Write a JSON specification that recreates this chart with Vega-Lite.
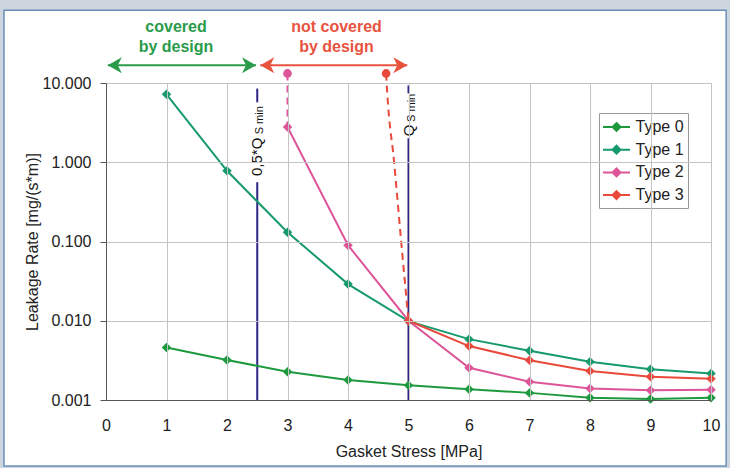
{
  "$schema": "https://vega.github.io/schema/vega-lite/v6.json",
  "width": 605,
  "height": 317,
  "autosize": {"type": "none"},
  "padding": {"left": 106, "top": 83, "right": 19, "bottom": 68},
  "background": "#cdd6df",
  "config": {
    "font": "Liberation Sans",
    "view": {"stroke": null},
    "axis": {
      "gridColor": "#c4c4c4",
      "gridWidth": 1,
      "domainColor": "#555555",
      "tickColor": "#555555",
      "labelColor": "#222222",
      "labelFontSize": 16,
      "titleFontSize": 16,
      "titleFontWeight": "normal",
      "titleColor": "#222222"
    }
  },
  "datasets": {
    "panel": [{"x": -1.686, "x2": 10.25, "y": 82.6, "y2": 0.000147}],
    "main": [
      {"series": "Type 0", "x": 1, "y": 0.0046},
      {"series": "Type 0", "x": 2, "y": 0.0032},
      {"series": "Type 0", "x": 3, "y": 0.00227},
      {"series": "Type 0", "x": 4, "y": 0.00179},
      {"series": "Type 0", "x": 5, "y": 0.00153},
      {"series": "Type 0", "x": 6, "y": 0.00137},
      {"series": "Type 0", "x": 7, "y": 0.00123},
      {"series": "Type 0", "x": 8, "y": 0.00107},
      {"series": "Type 0", "x": 9, "y": 0.00103},
      {"series": "Type 0", "x": 10, "y": 0.00107},
      {"series": "Type 1", "x": 1, "y": 7.2},
      {"series": "Type 1", "x": 2, "y": 0.78},
      {"series": "Type 1", "x": 3, "y": 0.131},
      {"series": "Type 1", "x": 4, "y": 0.029},
      {"series": "Type 1", "x": 5, "y": 0.0099},
      {"series": "Type 1", "x": 6, "y": 0.00586},
      {"series": "Type 1", "x": 7, "y": 0.00417},
      {"series": "Type 1", "x": 8, "y": 0.00303},
      {"series": "Type 1", "x": 9, "y": 0.00245},
      {"series": "Type 1", "x": 10, "y": 0.00216},
      {"series": "Type 2", "x": 3, "y": 2.79},
      {"series": "Type 2", "x": 4, "y": 0.0897},
      {"series": "Type 2", "x": 5, "y": 0.01},
      {"series": "Type 2", "x": 6, "y": 0.00255},
      {"series": "Type 2", "x": 7, "y": 0.0017},
      {"series": "Type 2", "x": 8, "y": 0.0014},
      {"series": "Type 2", "x": 9, "y": 0.00133},
      {"series": "Type 2", "x": 10, "y": 0.00135},
      {"series": "Type 3", "x": 5, "y": 0.01},
      {"series": "Type 3", "x": 6, "y": 0.00479},
      {"series": "Type 3", "x": 7, "y": 0.00318},
      {"series": "Type 3", "x": 8, "y": 0.00233},
      {"series": "Type 3", "x": 9, "y": 0.00196},
      {"series": "Type 3", "x": 10, "y": 0.00185}
    ],
    "dashed": [
      {"series": "Type 2", "x": 3, "y": 13.2},
      {"series": "Type 2", "x": 3, "y": 2.79},
      {"series": "Type 3", "x": 4.63, "y": 13.2},
      {"series": "Type 3", "x": 4.65, "y": 7.2},
      {"series": "Type 3", "x": 4.76, "y": 1.04},
      {"series": "Type 3", "x": 4.88, "y": 0.098},
      {"series": "Type 3", "x": 5, "y": 0.01}
    ],
    "tops": [
      {"series": "Type 2", "x": 3, "y": 13.2},
      {"series": "Type 3", "x": 4.63, "y": 13.2}
    ],
    "vrules": [
      {"x": 2.5, "y": 0.001, "y2": 0.56},
      {"x": 2.5, "y": 5.7, "y2": 8.5},
      {"x": 5, "y": 0.001, "y2": 2.01},
      {"x": 5, "y": 7.4, "y2": 9.3}
    ],
    "vlabels": [
      {"x": 2.5, "y": 1.17, "t": "0,5*Q"},
      {"x": 5, "y": 2.53, "t": "Q"}
    ],
    "vsubs": [
      {"x": 2.55, "y": 3.39, "t": "S min"},
      {"x": 5.05, "y": 4.86, "t": "S min"}
    ],
    "arrows": [
      {"g": "green", "x": 0.03, "x2": 2.48, "y": 16.7},
      {"g": "red", "x": 2.55, "x2": 4.98, "y": 16.7}
    ],
    "heads": [
      {"g": "green", "x": 0.03, "y": 16.7, "dir": "left"},
      {"g": "green", "x": 2.48, "y": 16.7, "dir": "right"},
      {"g": "red", "x": 2.55, "y": 16.7, "dir": "left"},
      {"g": "red", "x": 4.98, "y": 16.7, "dir": "right"}
    ],
    "notes": [
      {"g": "green", "x": 1.157, "y": 44, "t": "covered"},
      {"g": "green", "x": 1.157, "y": 24.6, "t": "by design"},
      {"g": "red", "x": 3.81, "y": 44, "t": "not covered"},
      {"g": "red", "x": 3.81, "y": 24.6, "t": "by design"}
    ]
  },
  "encoding": {
    "x": {
      "field": "x", "type": "quantitative",
      "scale": {"domain": [0, 10], "nice": false, "zero": false},
      "axis": {
        "zindex": 1,
        "title": "Gasket Stress [MPa]",
        "values": [0, 1, 2, 3, 4, 5, 6, 7, 8, 9, 10],
        "format": "d",
        "ticks": false,
        "labelPadding": 17,
        "titlePadding": 10,
        "labelFlush": false
      }
    },
    "y": {
      "field": "y", "type": "quantitative",
      "scale": {"type": "log", "domain": [0.001, 10], "nice": false},
      "axis": {
        "zindex": 1,
        "title": "Leakage Rate [mg/(s*m)]",
        "values": [0.001, 0.01, 0.1, 1, 10],
        "format": ".3f",
        "tickSize": 6,
        "labelPadding": 9,
        "titlePadding": 2,
        "labelFlush": false
      }
    }
  },
  "layer": [
    {
      "data": {"name": "panel"},
      "mark": {"type": "rect", "fill": "white", "stroke": "#6a90b6", "strokeWidth": 1.5, "clip": false},
      "encoding": {"x2": {"field": "x2"}, "y2": {"field": "y2"}}
    },
    {
      "data": {"name": "vrules"},
      "mark": {"type": "rule", "color": "#2e2585", "strokeWidth": 2, "clip": false},
      "encoding": {"y2": {"field": "y2"}}
    },
    {
      "data": {"name": "vlabels"},
      "mark": {"type": "text", "angle": -90, "align": "center", "baseline": "middle", "fontSize": 15, "color": "#111111"},
      "encoding": {"text": {"field": "t"}}
    },
    {
      "data": {"name": "vsubs"},
      "mark": {"type": "text", "angle": -90, "align": "center", "baseline": "middle", "fontSize": 11, "color": "#111111"},
      "encoding": {"text": {"field": "t"}}
    },
    {
      "data": {"name": "dashed"},
      "mark": {"type": "line", "strokeWidth": 2, "strokeDash": [7, 5], "interpolate": "monotone", "clip": false},
      "encoding": {
        "color": {"field": "series", "type": "nominal", "scale": {"domain": ["Type 0", "Type 1", "Type 2", "Type 3"], "range": ["#1e9a3e", "#169a6c", "#dd5599", "#e8493a"]}}
      }
    },
    {
      "data": {"name": "tops"},
      "mark": {"type": "point", "shape": "circle", "filled": true, "size": 75, "opacity": 1, "clip": false},
      "encoding": {
        "color": {"field": "series", "type": "nominal"}
      }
    },
    {
      "data": {"name": "main"},
      "mark": {"type": "line", "strokeWidth": 2, "point": {"shape": "diamond", "filled": true, "size": 90, "opacity": 1}},
      "encoding": {
        "color": {
          "field": "series", "type": "nominal",
          "legend": {
            "orient": "none", "legendX": 493, "legendY": 30,
            "title": null,
            "symbolType": "M-1.5,0L1.5,0M0,-0.44L0.44,0L0,0.44L-0.44,0Z",
            "symbolSize": 324,
            "symbolStrokeWidth": 2,
            "symbolOffset": 3.5,
            "labelFontSize": 16,
            "labelColor": "#222222",
            "labelOffset": 9,
            "rowPadding": 4.7,
            "padding": 4,
            "strokeColor": "#9a9a9a",
            "fillColor": "white",
            "encode": {"symbols": {"update": {"fill": {"scale": "color", "field": "value"}, "stroke": {"scale": "color", "field": "value"}, "opacity": {"value": 1}}}}
          }
        }
      }
    },
    {
      "data": {"name": "arrows"},
      "mark": {"type": "rule", "strokeWidth": 2, "clip": false},
      "encoding": {
        "x2": {"field": "x2"},
        "stroke": {"field": "g", "type": "nominal", "scale": {"domain": ["green", "red"], "range": ["#2a9b4a", "#e8533f"]}, "legend": null}
      }
    },
    {
      "data": {"name": "heads"},
      "mark": {"type": "point", "filled": true, "size": 64, "opacity": 1, "strokeWidth": 0, "clip": false},
      "encoding": {
        "fill": {"field": "g", "type": "nominal", "scale": {"domain": ["green", "red"], "range": ["#2a9b4a", "#e8533f"]}, "legend": null},
        "shape": {"field": "dir", "type": "nominal", "scale": {"domain": ["left", "right"], "range": ["M0,0L3.5,-2L2.5,0L3.5,2Z", "M0,0L-3.5,-2L-2.5,0L-3.5,2Z"]}, "legend": null}
      }
    },
    {
      "data": {"name": "notes"},
      "mark": {"type": "text", "fontSize": 16, "fontWeight": "bold", "align": "center", "baseline": "alphabetic", "clip": false},
      "encoding": {
        "text": {"field": "t"},
        "fill": {"field": "g", "type": "nominal", "legend": null}
      }
    }
  ]
}
